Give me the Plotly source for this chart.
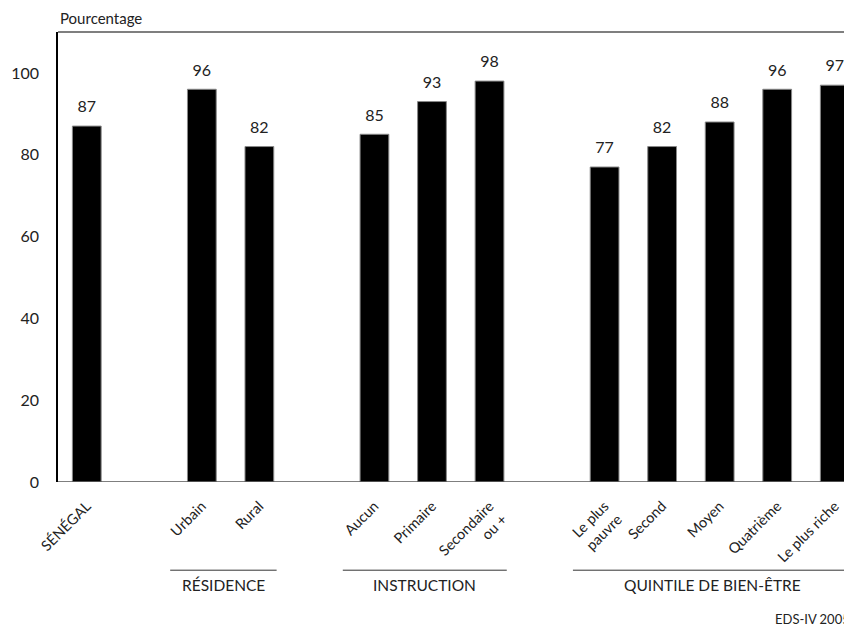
import plotly.graph_objects as go

# groups of categories, in order of appearance
group_names = ["", "RÉSIDENCE", "INSTRUCTION", "QUINTILE DE BIEN-ÊTRE"]
group_labels = [
    ["SÉNÉGAL"],
    ["Urbain", "Rural"],
    ["Aucun", "Primaire", "Secondaire<br>ou +"],
    ["Le plus<br>pauvre", "Second", "Moyen", "Quatrième", "Le plus riche"],
]
group_values = [
    [87],
    [96, 82],
    [85, 93, 98],
    [77, 82, 88, 96, 97],
]

FONT = "Lato"
INK = "#222222"

# position of each bar on the axis: one empty slot between groups
xs, labels, values, spans = [], [], [], []
pos = 0
for labs, vals in zip(group_labels, group_values):
    start = pos
    for lab, v in zip(labs, vals):
        xs.append(pos)
        labels.append(lab)
        values.append(v)
        pos += 1
    spans.append((start, pos - 1))
    pos += 1

XMAX = 13.3

fig = go.Figure()
fig.add_trace(go.Bar(
    x=xs, y=values, width=0.5,
    marker=dict(color="black", line=dict(color="#888888", width=1)),
    hoverinfo="skip",
))
# value labels, lifted above the bars by an invisible marker
fig.add_trace(go.Scatter(
    x=xs, y=values, mode="markers+text",
    text=[str(v) for v in values], textposition="top center",
    marker=dict(size=14, opacity=0),
    textfont=dict(family=FONT, size=16, color=INK),
    cliponaxis=False,
))

# the page body has an 8px margin, so the figure is shifted by 8px
fig.update_layout(
    width=844, height=625,
    margin=dict(l=50, r=0, t=24, b=151),
    plot_bgcolor="white", paper_bgcolor="white",
    showlegend=False,
    font=dict(family=FONT, color=INK),
)
fig.update_xaxes(
    range=[-0.5, XMAX], tickvals=xs, ticktext=labels, tickangle=-45,
    tickfont=dict(family=FONT, size=14.5, color=INK),
    showgrid=False, zeroline=False, ticks="outside", ticklen=9, tickcolor="white",
    showline=False,
)
fig.update_yaxes(
    range=[0, 110], tickvals=[0, 20, 40, 60, 80, 100],
    tickfont=dict(family=FONT, size=16, color=INK),
    showgrid=False, zeroline=False, ticks="outside", ticklen=14, tickcolor="white",
    showline=True, linecolor="black", linewidth=1.5,
)

# frame: bottom (0) and top lines
fig.add_shape(type="line", xref="paper", yref="y", x0=0, x1=1, y0=0, y1=0,
              line=dict(color="#555555", width=1.5))
fig.add_shape(type="line", xref="paper", yref="paper", x0=0, x1=1, y0=1, y1=1,
              line=dict(color="#555555", width=1.5))

# group underlines and names
for name, (a, b) in zip(group_names, spans):
    if not name:
        continue
    x0, x1 = a - 0.55, min(b + 0.3, XMAX)
    fig.add_shape(type="line", xref="x", yref="paper", x0=x0, x1=x1,
                  y0=-0.196, y1=-0.196, line=dict(color="#333333", width=1))
    fig.add_annotation(x=(x0 + x1) / 2, y=-0.205, xref="x", yref="paper",
                       text=name, showarrow=False, yanchor="top",
                       font=dict(family=FONT, size=15.5, color=INK))

fig.add_annotation(x=0.0, y=1.0, xref="paper", yref="paper", text="Pourcentage",
                   showarrow=False, xanchor="left", yanchor="bottom", yshift=3,
                   font=dict(family=FONT, size=15, color=INK))
fig.add_annotation(x=0.9, y=-0.304, xref="paper", yref="paper",
                   text="EDS-IV 2005", showarrow=False, xanchor="left", yanchor="middle",
                   font=dict(family=FONT, size=13, color=INK))

fig.write_html("out.html")
